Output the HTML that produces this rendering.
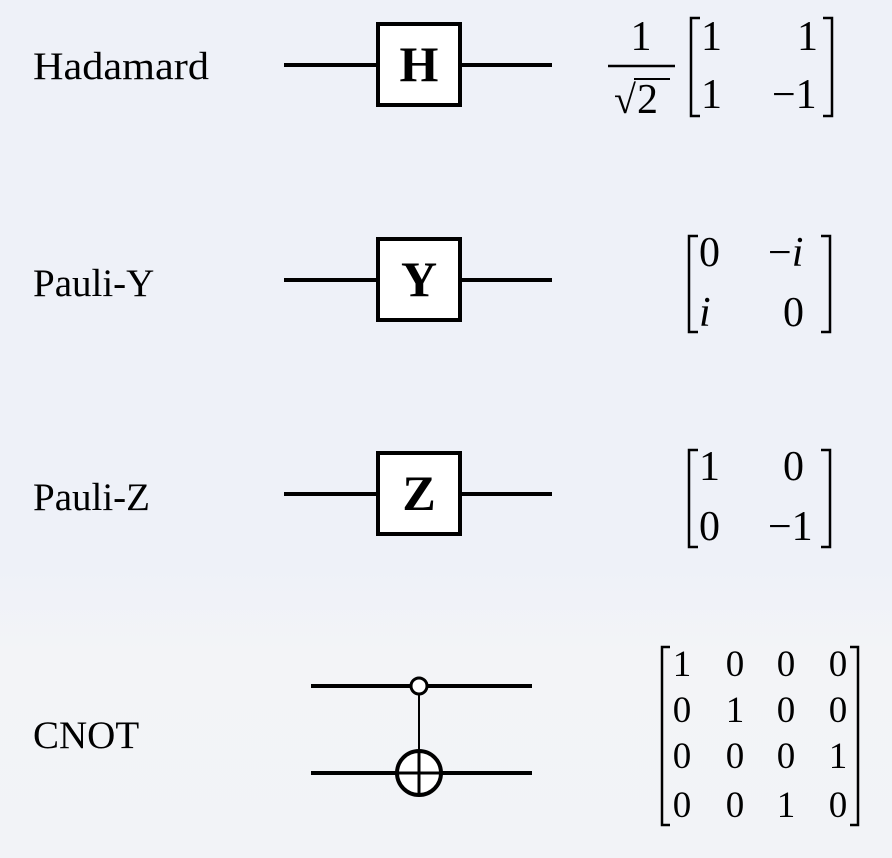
<!DOCTYPE html>
<html><head><meta charset="utf-8"><style>
html,body{margin:0;padding:0}
body{width:892px;height:858px;overflow:hidden;background:linear-gradient(180deg,#eef1f8 0%,#eef1f8 66%,#f3f4f7 76%,#f2f3f7 100%)}
svg{display:block}
text{font-family:"Liberation Serif",serif;fill:#000}
</style></head><body>
<svg width="892" height="858" viewBox="0 0 892 858">
<g font-size="39">
<text x="33" y="79" textLength="176" lengthAdjust="spacingAndGlyphs">Hadamard</text>
<text x="33" y="296">Pauli-Y</text>
<text x="33" y="510">Pauli-Z</text>
<text x="33" y="748">CNOT</text>
</g>
<g stroke="#000" stroke-width="4" fill="#fff">
<line x1="284" y1="65" x2="552" y2="65"/>
<rect x="378" y="24" width="82" height="81"/>
<line x1="284" y1="280" x2="552" y2="280"/>
<rect x="378" y="239" width="82" height="81"/>
<line x1="284" y1="494" x2="552" y2="494"/>
<rect x="378" y="453" width="82" height="81"/>
<line x1="311" y1="686" x2="532" y2="686"/>
<line x1="311" y1="773" x2="532" y2="773"/>
<line x1="419" y1="686" x2="419" y2="773" stroke-width="2"/>
<circle cx="419" cy="686" r="8" stroke-width="3"/>
<circle cx="419" cy="773" r="22"/>
<line x1="397" y1="773" x2="441" y2="773" stroke-width="3"/>
<line x1="419" y1="751" x2="419" y2="795" stroke-width="3"/>
</g>
<g font-size="50" font-weight="bold" text-anchor="middle">
<text x="419" y="81">H</text>
<text x="419" y="296">Y</text>
<text x="419" y="510">Z</text>
</g>
<g font-size="42">
<text x="641" y="50" text-anchor="middle">1</text>
<line x1="608" y1="66" x2="675" y2="66" stroke="#000" stroke-width="2.5"/>
<text x="614" y="113" font-size="40">√</text>
<line x1="634" y1="79" x2="670" y2="79" stroke="#000" stroke-width="2"/>
<text x="637" y="113">2</text>
<text x="701" y="50">1</text><text x="797" y="50">1</text>
<text x="701" y="108">1</text><text x="772" y="108">−1</text>
</g>
<g fill="none" stroke="#000" stroke-width="2.5">
<polyline points="700,18 691,18 691,116 700,116"/>
<polyline points="823,18 832,18 832,116 823,116"/>
<polyline points="698,236 689,236 689,332 698,332"/>
<polyline points="821,236 830,236 830,332 821,332"/>
<polyline points="698,450 689,450 689,547 698,547"/>
<polyline points="821,450 830,450 830,547 821,547"/>
<polyline points="670,647 662,647 662,825 670,825"/>
<polyline points="850,647 858,647 858,825 850,825"/>
</g>
<g font-size="42">
<text x="699" y="266">0</text><text x="768" y="266">−<tspan font-style="italic">i</tspan></text>
<text x="699" y="326" font-style="italic">i</text><text x="783" y="326">0</text>
<text x="699" y="480">1</text><text x="783" y="480">0</text>
<text x="699" y="540">0</text><text x="768" y="540">−1</text>
</g>
<g font-size="37" text-anchor="middle">
<text x="682" y="676">1</text><text x="735" y="676">0</text><text x="786" y="676">0</text><text x="838" y="676">0</text>
<text x="682" y="722">0</text><text x="735" y="722">1</text><text x="786" y="722">0</text><text x="838" y="722">0</text>
<text x="682" y="768">0</text><text x="735" y="768">0</text><text x="786" y="768">0</text><text x="838" y="768">1</text>
<text x="682" y="817">0</text><text x="735" y="817">0</text><text x="786" y="817">1</text><text x="838" y="817">0</text>
</g>
</svg>
</body></html>
